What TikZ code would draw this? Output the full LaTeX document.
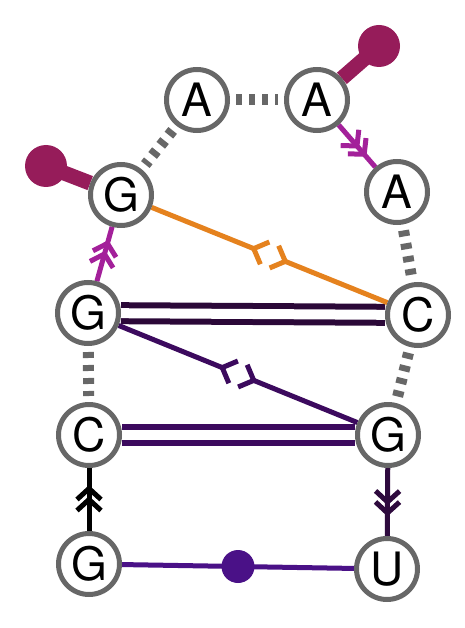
\documentclass[tikz,border=0pt]{standalone}
\usepackage{fontspec}
\setmainfont{TeX Gyre Heros}
\usetikzlibrary{decorations.markings,backgrounds}
\definecolor{rnagrey}{HTML}{676767}
\definecolor{rnaorange}{HTML}{E5821E}
\definecolor{rnacap}{HTML}{961C5A}
\definecolor{rnamagenta}{HTML}{A3209A}
\definecolor{rnadeep}{HTML}{2B0838}
\definecolor{rnaplum}{HTML}{3C0A5E}
\definecolor{rnadark}{HTML}{2E0A3E}
\definecolor{rnaviolet}{HTML}{4A1187}

\begin{document}
\begin{tikzpicture}[x=1pt,y=-1pt,line width=5pt,font=\fontsize{46}{48}\selectfont,
  base/.style={circle,draw=rnagrey,fill=white,minimum size=61pt,inner sep=0pt},
  stack/.style={rnagrey,line width=11pt,dash pattern=on 6pt off 7pt,shorten <=6pt,shorten >=6pt},
  pair/.style={double,double distance=10pt,line width=6pt},
  chev/.style={postaction={decorate},decoration={markings,mark=at position .5 with
    {\draw[line cap=butt,line width=5pt] (0pt,12pt) -- (11pt,0pt) -- (0pt,-12pt) (-11pt,12pt) -- (0pt,0pt) -- (-11pt,-12pt);}}},
  cross/.style={postaction={decorate},decoration={markings,mark=at position .5 with
    {\fill[white] (-17pt,-4pt) rectangle (17pt,4pt);
     \draw[line cap=butt] (-5pt,12pt) -- (-17pt,0pt) -- (-5pt,-12pt) (5pt,12pt) -- (17pt,0pt) -- (5pt,-12pt);}}},
  capball/.style={circle,fill=rnacap,minimum size=42pt,inner sep=0pt},
  bead/.style={circle,fill=rnaviolet,minimum size=33pt,inner sep=0pt}]
\useasboundingbox (0,0) rectangle (464,628);
\node[base] (a1) at (197,100) {A};\node[base] (a2) at (317,100) {A};
\node[base] (g1) at (121,195) {G};\node[base] (a3) at (397,192) {A};
\node[base] (g2) at (88,313) {G};\node[base] (c1) at (418,315) {C};
\node[base] (c2) at (89,435) {C};\node[base] (g3) at (388,435) {G};
\node[base] (g4) at (89,564) {G};\node[base] (u1) at (387,569) {U};
\node[capball] (p1) at (379,46) {};\node[capball] (p2) at (46,166) {};
\begin{pgfonlayer}{background}
\begin{scope}[line width=5pt]
\draw[stack] (a1)--(a2);\draw[stack] (a1)--(g1);\draw[stack] (a3)--(c1);
\draw[stack] (g2)--(c2);\draw[stack] (c1)--(g3);
\draw[pair,rnadeep] (g2)--(c1);\draw[pair,rnaplum] (c2)--(g3);
\draw[rnaplum,cross] (g2)--(g3);\draw[rnaorange,cross] (g1)--(c1);
\draw[rnamagenta,chev] (a2)--(a3);\draw[rnamagenta,chev] (g2)--(g1);
\draw[black,chev] (g4)--(c2);\draw[rnadark,chev] (g3)--(u1);
\draw[rnacap,line width=15pt] (a2)--(p1.center);\draw[rnacap,line width=15pt] (g1)--(p2.center);
\draw[rnaviolet] (g4)-- node[bead] (m1) {} (u1);
\end{scope}
\end{pgfonlayer}
\end{tikzpicture}
\end{document}
